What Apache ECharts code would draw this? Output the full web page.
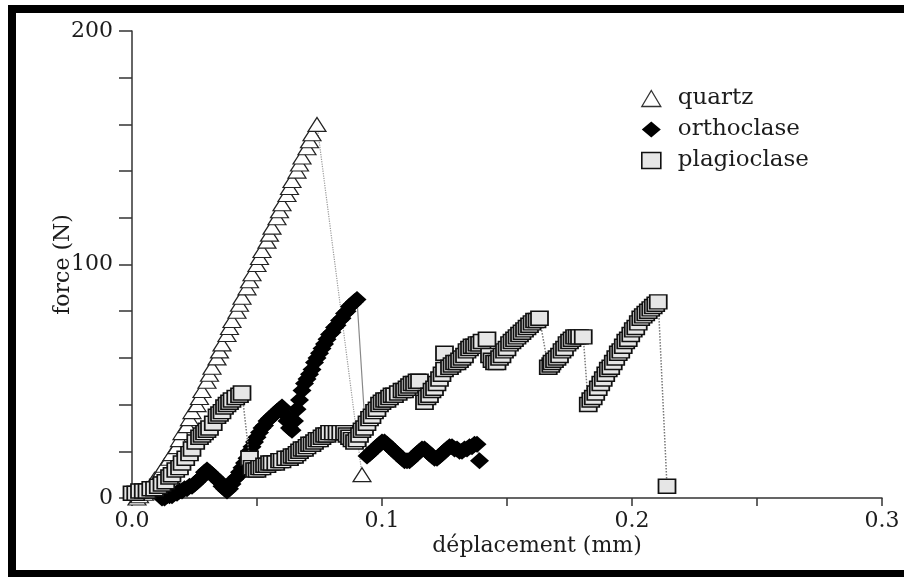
<!DOCTYPE html>
<html>
<head>
<meta charset="utf-8">
<script src="https://cdn.jsdelivr.net/npm/echarts@6/dist/echarts.min.js"></script>
<style>
  html, body { margin: 0; padding: 0; background: #fff; }
  #chart { width: 904px; height: 577px; }
</style>
</head>
<body>
<div id="chart"></div>
<script>
// displacement (mm), force (N)
const quartz = [
  [0.002, 0], [0.003, 1], [0.005, 2], [0.006, 4], [0.008, 6], [0.009, 8], [0.011, 10],
  [0.012, 12], [0.013, 14], [0.015, 17], [0.016, 19], [0.018, 22], [0.019, 25], [0.020, 28],
  [0.022, 31], [0.023, 34], [0.024, 37], [0.026, 40], [0.027, 43], [0.028, 46], [0.030, 50],
  [0.031, 53], [0.032, 56], [0.034, 60], [0.035, 63], [0.036, 66], [0.038, 70], [0.039, 73],
  [0.040, 76], [0.042, 80], [0.043, 83], [0.044, 86], [0.046, 90], [0.047, 93], [0.048, 96],
  [0.050, 100], [0.051, 103], [0.052, 106], [0.054, 110], [0.055, 113], [0.056, 116],
  [0.058, 120], [0.059, 123], [0.060, 126], [0.062, 130], [0.063, 133], [0.064, 136],
  [0.066, 140], [0.067, 143], [0.068, 146], [0.070, 150], [0.071, 153], [0.072, 156],
  [0.074, 160], [0.092, 10]
];
const orthoclase = [
  [0.012, 0], [0.013, 0], [0.014, 1], [0.015, 1], [0.016, 1], [0.017, 2], [0.018, 2],
  [0.019, 3], [0.020, 3], [0.021, 4], [0.022, 4], [0.023, 5], [0.024, 5], [0.025, 6],
  [0.026, 7], [0.027, 8], [0.028, 9], [0.029, 11], [0.030, 12], [0.031, 11], [0.032, 10],
  [0.033, 9], [0.034, 8], [0.035, 7], [0.036, 5], [0.037, 4], [0.038, 3], [0.039, 4],
  [0.040, 6], [0.041, 8], [0.042, 9], [0.043, 11], [0.044, 13], [0.045, 15], [0.046, 17],
  [0.047, 20], [0.048, 22], [0.049, 24], [0.050, 26], [0.051, 28], [0.052, 30], [0.053, 31],
  [0.054, 33], [0.055, 34], [0.056, 35], [0.057, 36], [0.058, 37], [0.059, 38], [0.060, 39],
  [0.061, 36], [0.062, 33], [0.063, 30], [0.064, 29], [0.065, 33], [0.066, 38], [0.067, 42],
  [0.068, 46], [0.069, 49], [0.070, 51], [0.071, 53], [0.072, 55], [0.073, 58], [0.074, 60],
  [0.075, 62], [0.076, 64], [0.077, 66], [0.078, 68], [0.079, 70], [0.080, 71], [0.081, 73],
  [0.082, 74], [0.083, 76], [0.084, 77], [0.085, 79], [0.086, 80], [0.087, 82], [0.088, 83],
  [0.089, 84], [0.090, 85],
  [0.094, 18], [0.095, 19], [0.096, 20], [0.097, 21], [0.098, 22], [0.099, 23], [0.100, 24],
  [0.101, 24], [0.102, 23], [0.103, 22], [0.104, 21], [0.105, 20], [0.106, 19], [0.107, 18],
  [0.108, 17], [0.109, 16], [0.110, 16], [0.111, 16], [0.112, 17], [0.113, 18], [0.114, 19],
  [0.115, 20], [0.116, 21], [0.117, 21], [0.118, 20], [0.119, 19], [0.120, 18], [0.121, 17],
  [0.122, 17], [0.123, 18], [0.124, 19], [0.125, 20], [0.126, 21], [0.127, 22], [0.128, 22],
  [0.129, 21], [0.130, 21], [0.131, 20], [0.132, 20], [0.133, 21], [0.134, 21], [0.135, 22],
  [0.136, 22], [0.137, 23], [0.138, 23], [0.139, 16]
];
const plagioclase = [
  [0.000, 2], [0.0015, 2], [0.003, 3], [0.0045, 3], [0.006, 3], [0.0075, 4], [0.009, 4],
  [0.0105, 5], [0.012, 6], [0.0135, 7], [0.015, 9], [0.016, 10], [0.0175, 12], [0.019, 13],
  [0.020, 15], [0.0215, 17], [0.023, 19], [0.024, 21], [0.0255, 24], [0.027, 26], [0.028, 27],
  [0.029, 28], [0.030, 29], [0.031, 30], [0.0325, 32], [0.034, 35], [0.035, 36], [0.036, 37],
  [0.037, 39], [0.038, 40], [0.039, 41], [0.040, 42], [0.0415, 43], [0.043, 44], [0.044, 45],
  [0.047, 17],
  [0.048, 13], [0.049, 12], [0.050, 12], [0.051, 13], [0.052, 13], [0.053, 14], [0.054, 14],
  [0.055, 15], [0.056, 15], [0.0575, 15], [0.059, 16], [0.060, 16], [0.0615, 17], [0.063, 17],
  [0.064, 18], [0.065, 18], [0.066, 19], [0.067, 20], [0.068, 21], [0.069, 21], [0.070, 22],
  [0.071, 23], [0.072, 23], [0.073, 24], [0.074, 25], [0.075, 25], [0.076, 26], [0.077, 27],
  [0.078, 27], [0.079, 28], [0.0805, 28], [0.082, 28], [0.0835, 28], [0.085, 28], [0.086, 27],
  [0.087, 26], [0.088, 25], [0.089, 24], [0.090, 25], [0.091, 27], [0.092, 29], [0.093, 30],
  [0.094, 32], [0.095, 34], [0.096, 35], [0.097, 37], [0.098, 38], [0.099, 40], [0.100, 41],
  [0.101, 42], [0.102, 42], [0.103, 43], [0.104, 44], [0.105, 44], [0.1065, 45], [0.108, 46],
  [0.109, 46], [0.110, 47], [0.111, 48], [0.112, 49], [0.113, 49], [0.114, 50], [0.115, 50],
  [0.117, 41], [0.118, 43], [0.119, 44], [0.120, 46], [0.121, 47], [0.122, 49], [0.123, 51],
  [0.124, 53], [0.125, 55], [0.125, 62], [0.127, 56], [0.128, 57], [0.129, 58], [0.130, 58],
  [0.131, 59], [0.132, 60], [0.133, 61], [0.134, 63], [0.135, 64], [0.136, 65], [0.137, 65],
  [0.138, 66], [0.139, 66], [0.140, 67], [0.142, 68], [0.143, 61], [0.144, 59], [0.145, 58],
  [0.146, 58], [0.147, 60], [0.148, 61], [0.149, 63], [0.150, 64], [0.151, 66], [0.152, 67],
  [0.153, 68], [0.154, 69], [0.155, 70], [0.156, 71], [0.157, 72], [0.158, 73], [0.159, 74],
  [0.160, 75], [0.161, 76], [0.162, 76], [0.163, 77],
  [0.1665, 56], [0.1675, 57], [0.168, 58], [0.169, 59], [0.170, 60], [0.171, 61], [0.172, 63],
  [0.173, 64], [0.174, 66], [0.175, 67], [0.176, 68], [0.177, 69], [0.178, 69], [0.179, 69],
  [0.1805, 69],
  [0.1825, 40], [0.1835, 42], [0.1845, 43], [0.1855, 45], [0.1865, 47], [0.1875, 49],
  [0.1885, 51], [0.1895, 53], [0.1905, 55], [0.1915, 56], [0.1925, 58], [0.1935, 60],
  [0.1945, 62], [0.1955, 63], [0.1965, 65], [0.1975, 67], [0.1985, 68], [0.1995, 70],
  [0.2005, 72], [0.2015, 73], [0.2025, 75], [0.2035, 77], [0.2045, 78], [0.2055, 79],
  [0.2065, 80], [0.2075, 81], [0.2085, 82], [0.2095, 83], [0.2105, 84],
  [0.214, 5]
];
const xLabelValues = [0, 0.1, 0.2, 0.3];
const yLabelValues = [0, 100, 200];

const serif = 'DejaVu Serif';
const ink = '#1c1c1c';

const chart = echarts.init(document.getElementById('chart'));
chart.setOption({
  animation: false,
  backgroundColor: '#fff',
  grid: { left: 132, right: 22, top: 31, bottom: 79 },
  xAxis: {
    type: 'value',
    min: 0,
    max: 0.3,
    interval: 0.05,
    name: 'déplacement (mm)',
    nameLocation: 'middle',
    nameGap: 37,
    nameMoveOverlap: false,
    nameTextStyle: { fontFamily: serif, fontSize: 22, color: ink, padding: [0, 0, 0, 60] },
    axisLine: { lineStyle: { color: '#333', width: 1.5 } },
    axisTick: { length: 8, lineStyle: { color: '#333', width: 1.5 } },
    splitLine: { show: false },
    axisLabel: {
      fontFamily: serif,
      fontSize: 22,
      color: ink,
      margin: 12,
      formatter: function (v) {
        const hit = xLabelValues.find(function (t) { return Math.abs(t - v) < 1e-9; });
        return hit === undefined ? '' : hit.toFixed(1);
      }
    }
  },
  yAxis: {
    type: 'value',
    min: 0,
    max: 200,
    interval: 20,
    name: 'force (N)',
    nameLocation: 'middle',
    nameGap: 58,
    nameMoveOverlap: false,
    nameTextStyle: { fontFamily: serif, fontSize: 22, color: ink },
    axisLine: { show: true, lineStyle: { color: '#333', width: 1.5 } },
    axisTick: { show: true, length: 13, lineStyle: { color: '#333', width: 1.5 } },
    splitLine: { show: false },
    axisLabel: {
      fontFamily: serif,
      fontSize: 22,
      color: ink,
      margin: 19,
      formatter: function (v) {
        return yLabelValues.indexOf(v) >= 0 ? String(v) : '';
      }
    }
  },
  legend: {
    orient: 'vertical',
    left: 636,
    top: 82,
    itemWidth: 19,
    itemHeight: 16,
    itemGap: 8,
    textStyle: { fontFamily: serif, fontSize: 23, color: ink, padding: [0, 0, 0, 12] },
    data: [
      { name: 'quartz', icon: 'triangle', itemStyle: { color: '#fff', borderColor: '#333', borderWidth: 1.3 } },
      { name: 'orthoclase', icon: 'diamond', itemStyle: { color: '#000', borderWidth: 0 } },
      { name: 'plagioclase', icon: 'rect', itemStyle: { color: '#e6e6e6', borderColor: '#111', borderWidth: 1.6 } }
    ]
  },
  series: [
    {
      name: 'quartz',
      type: 'line',
      data: quartz,
      symbol: 'triangle',
      symbolSize: [18, 14],
      itemStyle: { color: '#fff', borderColor: '#222', borderWidth: 1.2 },
      lineStyle: { color: '#999', width: 1.2, type: 'dotted' },
      z: 2
    },
    {
      name: 'orthoclase',
      type: 'line',
      data: orthoclase,
      symbol: 'diamond',
      symbolSize: [19, 17],
      itemStyle: { color: '#000', borderWidth: 0 },
      lineStyle: { color: '#888', width: 1.2 },
      z: 3
    },
    {
      name: 'plagioclase',
      type: 'line',
      data: plagioclase,
      symbol: 'rect',
      symbolSize: [17, 14],
      itemStyle: { color: '#e6e6e6', borderColor: '#111', borderWidth: 1.6 },
      lineStyle: { color: '#777', width: 1.5, type: 'dotted' },
      z: 4
    }
  ],
  graphic: [
    { type: 'rect', shape: { x: 8, y: 5, width: 896, height: 8 }, style: { fill: '#000' }, silent: true },
    { type: 'rect', shape: { x: 8, y: 5, width: 8, height: 572 }, style: { fill: '#000' }, silent: true },
    { type: 'rect', shape: { x: 8, y: 570, width: 896, height: 7 }, style: { fill: '#000' }, silent: true }
  ]
});
</script>
</body>
</html>
